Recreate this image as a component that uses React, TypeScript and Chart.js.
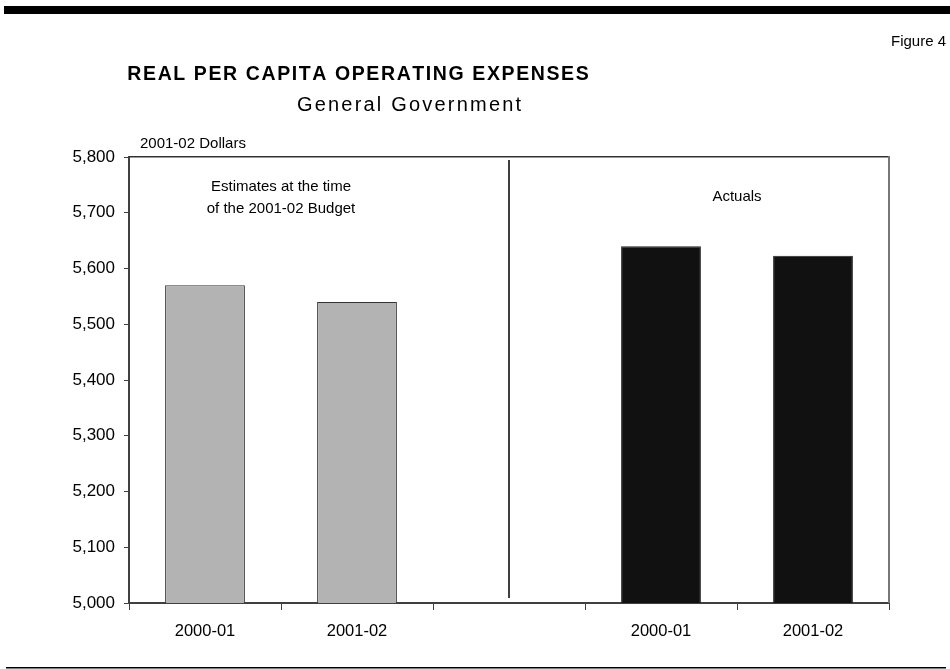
import React, { useEffect, useRef } from 'react';
import { Chart, registerables } from 'chart.js';

Chart.register(...registerables);

// Fiscal years on the category axis; the empty slot separates the two panels.
const categories = ['2000-01', '2001-02', '', '2000-01', '2001-02'];
// Estimates at the time of the 2001-02 Budget (2001-02 dollars per capita).
const estimates = [5570, 5540];
// Actual results (2001-02 dollars per capita).
const actuals = [5640, 5623];
// Value axis range.
const yMin = 5000;
const yMax = 5800;
const yStep = 100;

const FONT = '"Liberation Sans", Arial, Helvetica, sans-serif';

function spacedText(
  ctx: CanvasRenderingContext2D,
  text: string,
  cx: number,
  y: number,
  spacing: number
) {
  const chars = text.split('');
  const widths = chars.map((c) => ctx.measureText(c).width);
  const total = widths.reduce((a, b) => a + b, 0) + spacing * (chars.length - 1);
  let x = cx - total / 2;
  ctx.textAlign = 'left';
  chars.forEach((c, i) => {
    ctx.fillText(c, x, y);
    x += widths[i] + spacing;
  });
}

const decorPlugin = {
  id: 'decor',
  afterDraw(chart: any) {
    const { ctx, chartArea, scales } = chart;
    const xs = scales.x;
    ctx.save();

    // Heavy rule at the top and light rule at the bottom of the page.
    ctx.fillStyle = '#000';
    ctx.fillRect(4, 6, 946, 8);
    ctx.fillRect(6, 667, 940, 1.5);

    // Headings
    ctx.fillStyle = '#000';
    ctx.textBaseline = 'alphabetic';
    ctx.font = `bold 19.5px ${FONT}`;
    spacedText(ctx, 'REAL PER CAPITA OPERATING EXPENSES', 358, 80, 1.6);
    ctx.font = `20px ${FONT}`;
    spacedText(ctx, 'General Government', 409, 111, 2.2);

    ctx.font = `15px ${FONT}`;
    ctx.textAlign = 'right';
    ctx.fillText('Figure 4', 946, 46);
    ctx.textAlign = 'left';
    ctx.fillText('2001-02 Dollars', 140, 148);

    // Plot frame: top and right edges.
    ctx.fillStyle = '#333';
    ctx.fillRect(chartArea.left, chartArea.top - 1, chartArea.right - chartArea.left, 1.5);
    ctx.fillStyle = '#777';
    ctx.fillRect(chartArea.right - 1, chartArea.top - 1, 2, chartArea.bottom - chartArea.top + 1);

    // Divider between the two panels.
    const dx = xs.getPixelForValue(2);
    ctx.fillStyle = '#000';
    ctx.fillRect(dx - 0.75, chartArea.top + 3, 1.5, chartArea.bottom - chartArea.top - 8);

    // Panel captions.
    ctx.font = `15px ${FONT}`;
    ctx.textAlign = 'center';
    const leftMid = (xs.getPixelForValue(0) + xs.getPixelForValue(1)) / 2;
    const rightMid = (xs.getPixelForValue(3) + xs.getPixelForValue(4)) / 2;
    ctx.fillText('Estimates at the time', leftMid, chartArea.top + 34);
    ctx.fillText('of the 2001-02 Budget', leftMid, chartArea.top + 56);
    ctx.fillText('Actuals', rightMid, chartArea.top + 44);

    ctx.restore();
  },
};

export default function App() {
  const ref = useRef<HTMLCanvasElement | null>(null);

  useEffect(() => {
    if (!ref.current) return;
    const estData = [estimates[0], estimates[1], null, null, null];
    const actData = [null, null, null, actuals[0], actuals[1]];
    const chart = new Chart(ref.current, {
      type: 'bar',
      data: {
        labels: categories,
        datasets: [
          {
            label: 'Estimates',
            data: estData,
            backgroundColor: '#b3b3b3',
            borderColor: '#333333',
            borderWidth: 1,
            barPercentage: 0.525,
            categoryPercentage: 1,
            grouped: false,
          },
          {
            label: 'Actuals',
            data: actData,
            backgroundColor: '#111111',
            borderColor: '#222222',
            borderWidth: 1,
            barPercentage: 0.525,
            categoryPercentage: 1,
            grouped: false,
          },
        ],
      },
      options: {
        animation: false,
        responsive: false,
        maintainAspectRatio: false,
        layout: { padding: { left: 0, top: 157, right: 61, bottom: 0 } },
        plugins: {
          legend: { display: false },
          tooltip: { enabled: false },
          title: { display: false },
        },
        scales: {
          x: {
            type: 'category',
            grid: {
              display: true,
              offset: true,
              drawOnChartArea: false,
              drawTicks: true,
              tickLength: 7,
              color: '#404040',
              lineWidth: 1,
            },
            border: { display: true, color: '#404040', width: 2 },
            ticks: {
              color: '#000',
              font: { family: FONT, size: 16.5 },
              padding: 12,
              maxRotation: 0,
              autoSkip: false,
            },
            afterFit(scale: any) {
              scale.height = 66;
            },
          },
          y: {
            min: yMin,
            max: yMax,
            grid: {
              display: true,
              drawOnChartArea: false,
              drawTicks: true,
              tickLength: 5,
              color: '#404040',
              lineWidth: 1,
            },
            border: { display: true, color: '#404040', width: 2 },
            ticks: {
              stepSize: yStep,
              color: '#000',
              font: { family: FONT, size: 17 },
              padding: 9,
              callback: (v: any) => Number(v).toLocaleString('en-US'),
            },
            afterFit(scale: any) {
              scale.width = 129;
            },
          },
        },
      },
      plugins: [decorPlugin],
    });
    return () => chart.destroy();
  }, []);

  return (
    <div style={{ position: 'fixed', left: 0, top: 0, width: 950, height: 669, background: '#fff' }}>
      <canvas ref={ref} width={950} height={669} style={{ width: 950, height: 669, display: 'block' }} />
    </div>
  );
}
